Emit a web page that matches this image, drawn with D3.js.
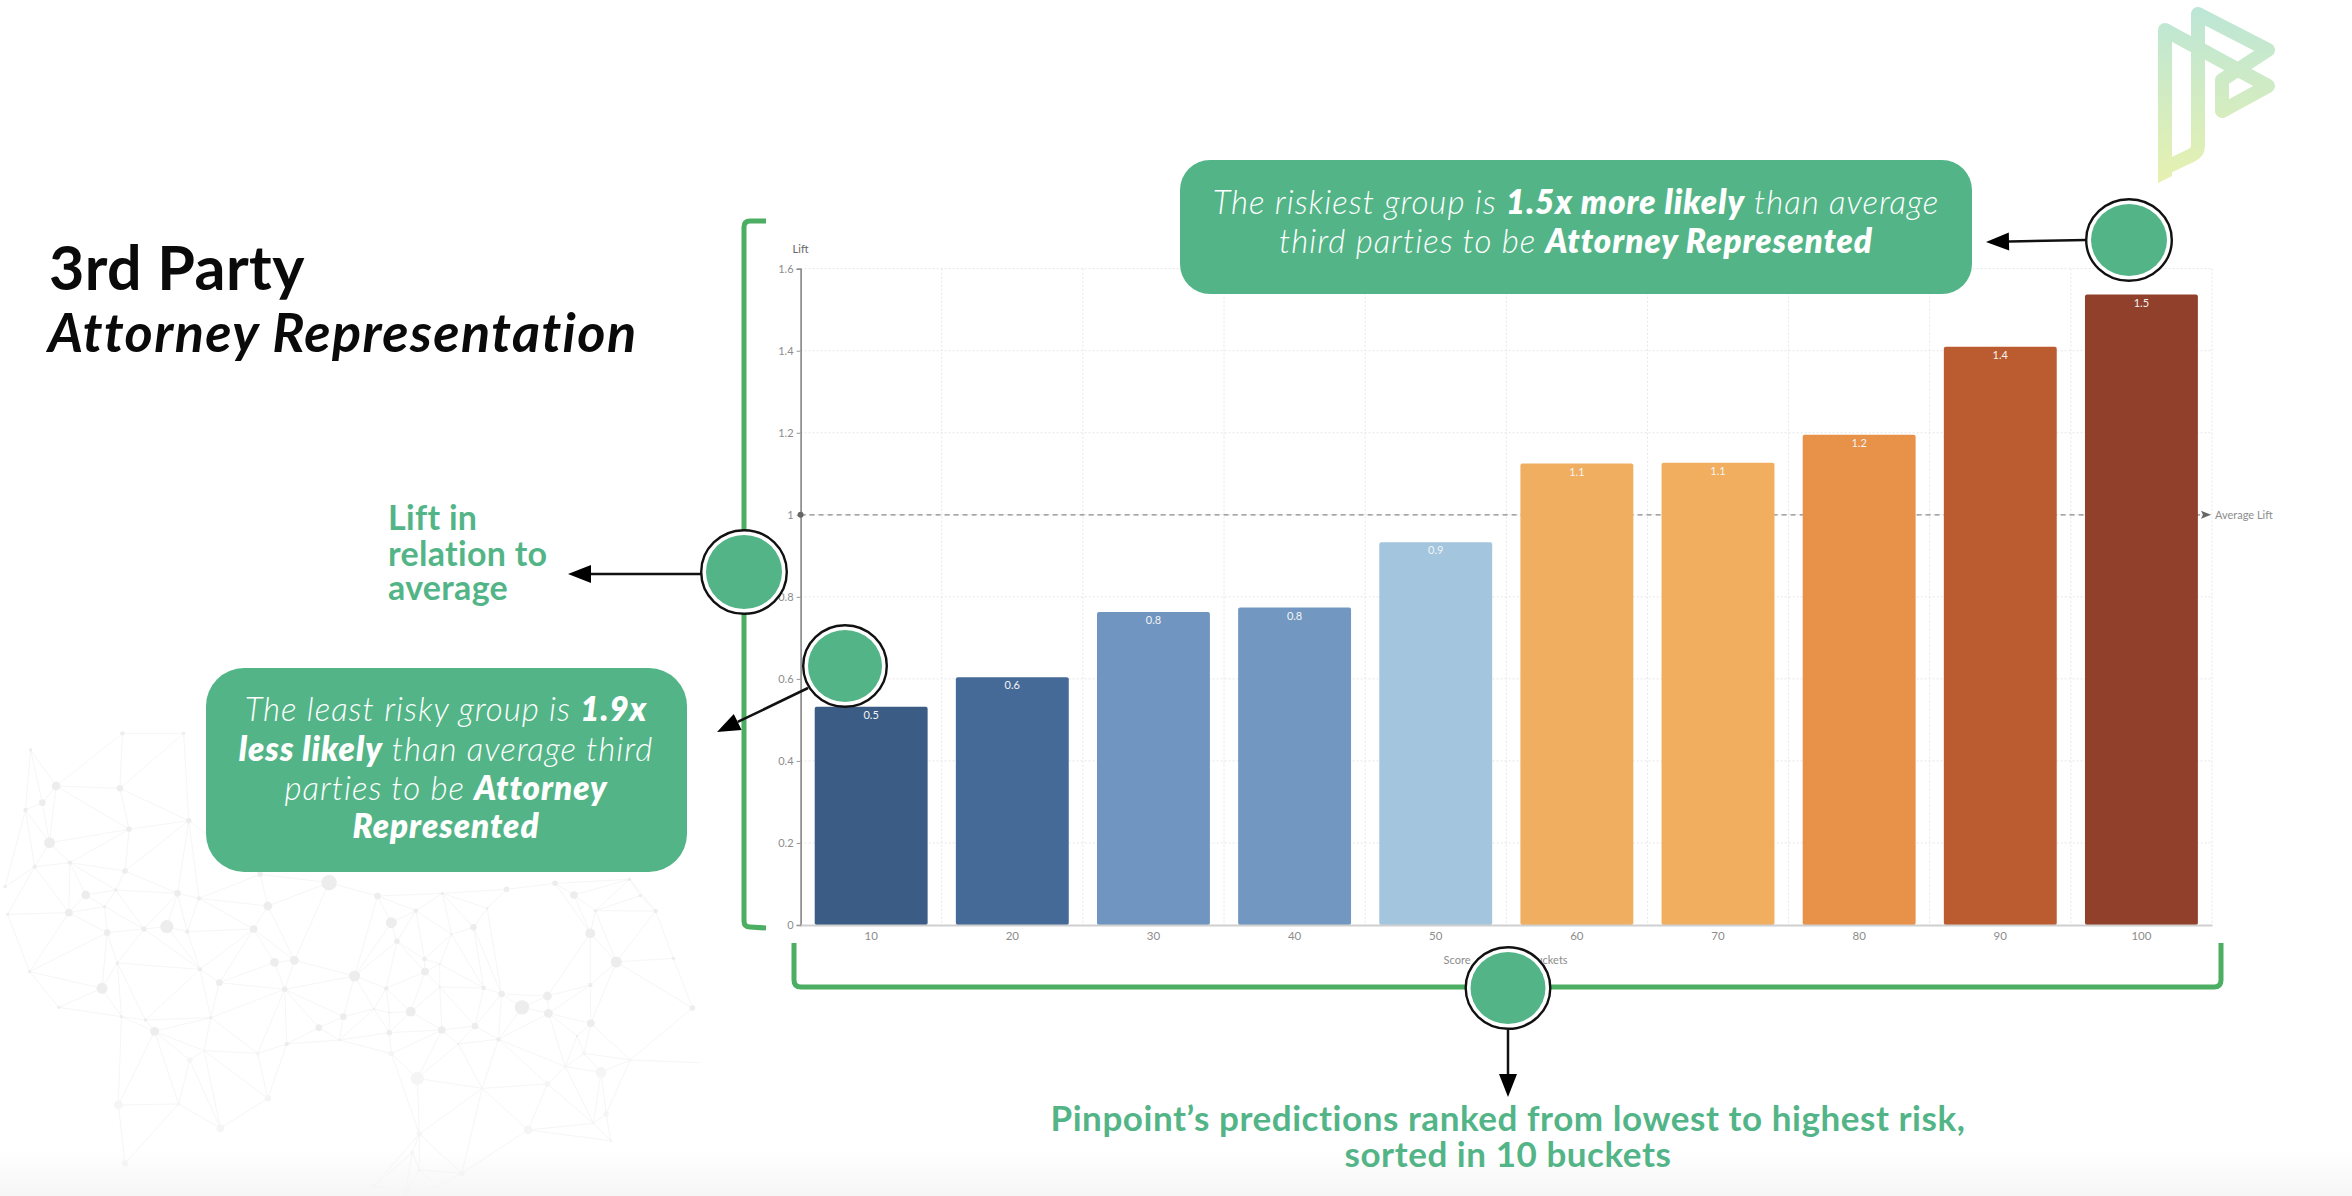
<!DOCTYPE html>
<html>
<head>
<meta charset="utf-8">
<script src="https://cdnjs.cloudflare.com/ajax/libs/d3/7.8.5/d3.min.js"></script>
<style>
  html, body { margin:0; padding:0; background:#fff; }
  svg { display:block; }
  text { font-family:Lato, "Open Sans", sans-serif; }
</style>
</head>
<body>
<svg id="slide" width="2352" height="1196"></svg>
<script>
//------------------------------------------------------------------------
// Chart data
const buckets    = ['10','20','30','40','50','60','70','80','90','100'];
const liftValues = [0.532,0.604,0.763,0.774,0.933,1.125,1.127,1.195,1.41,1.537];
const barColors  = ['#3a5c85','#466a98','#6f95c0','#7298c1','#a3c6de',
                    '#f0ae60','#f0ae5e','#e89149','#bb5c30','#91412b'];
const yTicks     = [0,0.2,0.4,0.6,0.8,1,1.2,1.4,1.6];
const averageLift = 1;

// Slide texts, each line is a list of [text, isBold] runs
const titleLines  = ['3rd Party','Attorney Representation'];
const liftLines   = ['Lift in','relation to','average'];
const bucketLines = ['Pinpoint\u2019s predictions ranked from lowest to highest risk,','sorted in 10 buckets'];
const riskyLines  = [[['The riskiest group is ',0],['1.5x more likely',1],[' than average',0]],
                     [['third parties to be ',0],['Attorney Represented',1]]];
const safeLines   = [[['The least risky group is ',0],['1.9x',1]],
                     [['less likely',1],[' than average third',0]],
                     [['parties to be ',0],['Attorney',1]],
                     [['Represented',1]]];

// Background network nodes [x, y, r] as measured in the lower left of the slide
const netNodes = [[235,25,6],[253,148,5],[97,188,10],[137,248,4],[68,260,4],[245,273,5],[168,345,8],[227,330,3],
    [348,340,6],[390,355,4],[135,398,7],[205,380,3],[327,440,12],[282,447,5],[367,455,4],[497,447,7],[210,458,6],
    [15,403,3],[525,378,8],[645,308,14],[510,283,5],[740,348,6],[815,392,4],[867,340,3],[955,385,2],[993,328,5],
    [1088,310,5],[1125,345,7],[1167,392,3],[1285,393,4],[1234,298,3],[1255,347,3],[928,442,6],[885,463,2],[778,484,5],
    [767,428,10],[1157,460,9],[1208,546,10],[577,541,8],[538,547,8],[430,608,6],[392,568,4],[230,549,3],[200,625,10],
    [58,575,3],[115,682,3],[238,710,3],[285,720,3],[303,754,8],[413,713,3],[372,840,5],[505,820,4],[400,812,2],
    [562,792,4],[558,628,5],[695,588,10],[757,625,4],[832,537,4],[862,552,2],[833,575,7],[862,621,2],[948,624,4],
    [983,642,6],[1073,648,8],[1023,682,13],[1075,700,8],[805,695,9],[763,698,2],[733,687,2],[673,710,6],[625,743,6],
    [763,758,5],[866,750,7],[931,738,6],[977,778,4],[898,792,2],[767,821,5],[818,895,12],[665,780,2],[1158,730,7],
    [1131,768,2],[1145,820,4],[1108,860,3],[1178,877,10],[1073,912,5],[945,925,2],[1357,684,5],[1235,840,3],[1370,848,1],
    [525,955,6],[350,972,3],[432,1045,7],[232,975,8],[1035,1050,8],[1188,1002,5],[1163,1030,2],[1197,1082,3],[822,1062,5],
    [808,1118,4],[822,1170,3],[905,1180,5],[733,1218,5],[795,1235,7],[858,1220,2],[245,1150,6],[1320,535,3],[1157,615,4],
    [50,90,4],[83,68,6],[10,320,3],[370,122,5],[110,18,8],[360,-140,3],[240,-140,4],[60,-90,3]];

// Initialize global constants
const svgWidth  = 2352;
const svgHeight = 1196;
const margin    = {top:268.7, bottom:271, left:800.6, right:140};
const green     = '#53b587';
const bracket   = '#4cae62';

const chartWidth  = svgWidth - margin.left - margin.right;
const chartHeight = svgHeight - margin.top - margin.bottom;

const svg = d3.select('#slide');

const defs = svg.append('defs');
const logoGrad = defs.append('linearGradient').attr('id','logo-grad')
                     .attr('gradientUnits','userSpaceOnUse')
                     .attr('x1',0).attr('x2',0).attr('y1',8).attr('y2',182);
logoGrad.append('stop').attr('offset','0%').attr('stop-color','#bce6d6');
logoGrad.append('stop').attr('offset','100%').attr('stop-color','#e6f1b0');
const floorGrad = defs.append('linearGradient').attr('id','floor-grad')
                      .attr('x1',0).attr('x2',0).attr('y1',0).attr('y2',1);
floorGrad.append('stop').attr('offset','0%').attr('stop-color','#ffffff');
floorGrad.append('stop').attr('offset','100%').attr('stop-color','#f6f6f6');

//------------------------------------------------------------------------
// Function : drawNetwork()
// - Faint node and link texture behind the lower left of the slide.
//
function drawNetwork() {
    const nx = d3.scaleLinear().domain([0,1568]).range([0,800]);
    const ny = d3.scaleLinear().domain([0,1248]).range([780,1196]);
    const pts = netNodes.map(d=>[nx(d[0]), ny(d[1])]);
    const g = svg.append('g').attr('id','network');

    const delaunay = d3.Delaunay.from(pts);
    const links = [];
    const tri = delaunay.triangles;
    for (let i = 0; i < tri.length; i += 3) {
        [[tri[i],tri[i+1]],[tri[i+1],tri[i+2]],[tri[i+2],tri[i]]].forEach(([a,b])=>{
            if (a < b && Math.hypot(pts[a][0]-pts[b][0], pts[a][1]-pts[b][1]) < 90) links.push([a,b]);
        });
    }
    g.selectAll('line').data(links).enter().append('line')
     .attr('x1',d=>pts[d[0]][0]).attr('y1',d=>pts[d[0]][1])
     .attr('x2',d=>pts[d[1]][0]).attr('y2',d=>pts[d[1]][1])
     .attr('stroke','#f6f6f6').attr('stroke-width',1);
    g.selectAll('circle').data(netNodes).enter().append('circle')
     .attr('cx',d=>nx(d[0])).attr('cy',d=>ny(d[1]))
     .attr('r',d=>d[2]*0.55)
     .attr('fill',d=>d[1] > 800 ? '#f5f5f5' : '#ededed');
}

//------------------------------------------------------------------------
// Function : drawChart()
// - Axes, grid, bars and the average lift reference line.
//
function drawChart() {
    const xScale = d3.scaleBand().domain(buckets).range([0,chartWidth])
                     .paddingInner(0.2).paddingOuter(0.1);
    const yScale = d3.scaleLinear().domain([0,1.6]).range([chartHeight,0]);
    const step   = xScale.step();

    const g = svg.append('g').attr('id','chart')
                 .attr('transform',`translate(${margin.left},${margin.top})`);

    // Grid
    g.append('g').selectAll('line').data(yTicks.filter(d=>d>0)).enter().append('line')
     .attr('x1',0).attr('x2',chartWidth).attr('y1',d=>yScale(d)).attr('y2',d=>yScale(d))
     .attr('stroke','#e6e6e6').attr('stroke-dasharray','2 2');
    g.append('g').selectAll('line').data(d3.range(1,buckets.length+1)).enter().append('line')
     .attr('x1',d=>d*step).attr('x2',d=>d*step).attr('y1',0).attr('y2',chartHeight)
     .attr('stroke','#e6e6e6').attr('stroke-dasharray','2 2');

    // Average lift line, under the bars
    g.append('line').attr('x1',0).attr('x2',chartWidth-12)
     .attr('y1',yScale(averageLift)).attr('y2',yScale(averageLift))
     .attr('stroke','#8a8a8a').attr('stroke-dasharray','5 4').attr('stroke-width',1.2);

    // Bars
    g.selectAll('.bar').data(liftValues).enter().append('rect')
     .attr('class','bar')
     .attr('x',(d,i)=>xScale(buckets[i]))
     .attr('y',d=>yScale(d))
     .attr('width',xScale.bandwidth())
     .attr('height',d=>chartHeight-yScale(d))
     .attr('rx',2)
     .attr('fill',(d,i)=>barColors[i]);

    g.selectAll('.bar-label').data(liftValues).enter().append('text')
     .attr('class','bar-label')
     .attr('x',(d,i)=>xScale(buckets[i])+xScale.bandwidth()/2)
     .attr('y',d=>yScale(d)+12)
     .attr('text-anchor','middle')
     .attr('font-size',11)
     .attr('fill','#f4f4f4')
     .text(d3.format('.1f'));

    // Axes
    const yAxis = d3.axisLeft(yScale).tickValues(yTicks).tickFormat(d=>d).tickSize(4).tickPadding(3);
    const xAxis = d3.axisBottom(xScale).tickSize(0).tickPadding(7);
    const yG = g.append('g').call(yAxis);
    yG.select('.domain').attr('stroke','#7c7c7c').attr('stroke-width',1.5);
    yG.selectAll('.tick line').attr('stroke','#999');
    yG.selectAll('text').attr('font-size',11).attr('fill','#8c8c8c').style('font-family','Lato');

    const xG = g.append('g').attr('transform',`translate(0,${chartHeight})`).call(xAxis);
    xG.select('.domain').attr('stroke','#cfcfcf').attr('stroke-width',2);
    xG.selectAll('text').attr('font-size',11.5).attr('fill','#8c8c8c').style('font-family','Lato');

    g.append('circle').attr('cx',0).attr('cy',yScale(averageLift)).attr('r',3).attr('fill','#666');

    // Axis titles and average lift marker
    g.append('text').attr('x',-8).attr('y',-16).attr('font-size',11).attr('fill','#666').text('Lift');
    g.append('text').attr('x',643).attr('y',chartHeight+39).attr('font-size',11).attr('fill','#8c8c8c').text('Score');
    g.append('text').attr('x',767).attr('y',chartHeight+39).attr('text-anchor','end').attr('font-size',11).attr('fill','#8c8c8c').text('Buckets');

    const avgY = yScale(averageLift);
    g.append('path').attr('d',`M${chartWidth-11},${avgY-4}L${chartWidth-1},${avgY}L${chartWidth-11},${avgY+4}L${chartWidth-9},${avgY}Z`).attr('fill','#666');
    g.append('text').attr('x',chartWidth+3).attr('y',avgY+4).attr('font-size',11).attr('fill','#8c8c8c').text('Average Lift');
}

//------------------------------------------------------------------------
// Annotation helpers
//
function callout(cx, cy, rx, ry) {
    svg.append('ellipse').attr('cx',cx).attr('cy',cy).attr('rx',rx-1.2).attr('ry',ry-1.2)
       .attr('fill','#fff').attr('stroke','#111').attr('stroke-width',2.4);
    svg.append('ellipse').attr('cx',cx).attr('cy',cy).attr('rx',rx-6).attr('ry',ry-6).attr('fill',green);
}

function arrow(x1, y1, x2, y2) {
    const a = Math.atan2(y2-y1, x2-x1);
    const len = 23, half = 9;
    const bx = x2 - len*Math.cos(a), by = y2 - len*Math.sin(a);
    svg.append('line').attr('x1',x1).attr('y1',y1).attr('x2',bx).attr('y2',by)
       .attr('stroke','#111').attr('stroke-width',2.5);
    svg.append('path').attr('fill','#000')
       .attr('d',`M${x2},${y2}L${bx-half*Math.sin(a)},${by+half*Math.cos(a)}L${bx+half*Math.sin(a)},${by-half*Math.cos(a)}Z`);
}

function richText(lines, cx, baselines, size) {
    const t = svg.append('g').attr('font-size',size).attr('fill','#fff')
                 .attr('text-anchor','middle').attr('letter-spacing',1);
    lines.forEach((runs,i)=>{
        const line = t.append('text').attr('x',cx).attr('y',baselines[i]).attr('font-style','italic');
        runs.forEach(r=>{
            line.append('tspan').attr('font-weight',r[1]?800:300).text(r[0]);
        });
    });
}

//------------------------------------------------------------------------
// Function : drawSlide()
// - Title, logo, brackets, callouts and comment boxes around the chart.
//
function drawSlide() {
    // Title
    svg.append('text').attr('x',49).attr('y',290).attr('font-size',61).attr('font-weight',700).attr('letter-spacing',0.4).attr('fill','#0a0a0a').text(titleLines[0]);
    svg.append('text').attr('x',48).attr('y',352).attr('font-size',54).attr('font-weight',700).attr('letter-spacing',1.4).attr('font-style','italic').attr('fill','#0a0a0a').text(titleLines[1]);

    // Logo
    svg.append('path').attr('fill','none').attr('stroke','url(#logo-grad)').attr('stroke-width',14)
       .attr('stroke-linejoin','round')
       .attr('d','M2165,176 V30 L2268,86 L2222,111 V80 L2268,50 L2198,14 V146 Q2198,152 2192,155 L2165,168');
    svg.append('path').attr('fill','url(#logo-grad)').attr('d','M2158,168 L2172,168 L2172,176 L2158,183 Z');

    // Brackets
    const brackets = svg.append('g').attr('fill','none').attr('stroke',bracket).attr('stroke-width',5);
    brackets.append('path').attr('d','M766,221 L750,221 Q744,221 744,227 V921 Q744,927 750,927 L766,928');
    brackets.append('path').attr('d','M794,943 V980 Q794,987 801,987 H2214 Q2221,987 2221,980 V943');

    // Comment boxes
    svg.append('rect').attr('x',1180).attr('y',160).attr('width',792).attr('height',134).attr('rx',30).attr('fill',green);
    svg.append('rect').attr('x',206).attr('y',668).attr('width',481).attr('height',204).attr('rx',38).attr('fill',green);
    richText(riskyLines,1576,[214,253],33);
    richText(safeLines,446,[721,761,800,838],33);

    // Green labels
    const lift = svg.append('g').attr('font-size',34).attr('font-weight',700).attr('letter-spacing',0.3).attr('fill',green);
    liftLines.forEach((s,i)=>lift.append('text').attr('x',388).attr('y',[530,566,600][i]).text(s));
    const bucket = svg.append('g').attr('font-size',35).attr('font-weight',700).attr('letter-spacing',0.55).attr('fill',green).attr('text-anchor','middle');
    bucketLines.forEach((s,i)=>bucket.append('text').attr('x',1508).attr('y',[1131,1167][i]).text(s));

    // Callouts and arrows
    arrow(701,574,568,574);
    arrow(808,688,717,732);
    arrow(2086,240,1986,242);
    arrow(1508,1030,1508,1097);
    callout(744,572,44,43);
    callout(845,666,43,42);
    callout(2129,240,44,42);
    callout(1508,988,43.5,42);
}

svg.append('rect').attr('x',0).attr('y',1150).attr('width',svgWidth).attr('height',46).attr('fill','url(#floor-grad)');
drawNetwork();
drawChart();
drawSlide();
</script>
</body>
</html>
